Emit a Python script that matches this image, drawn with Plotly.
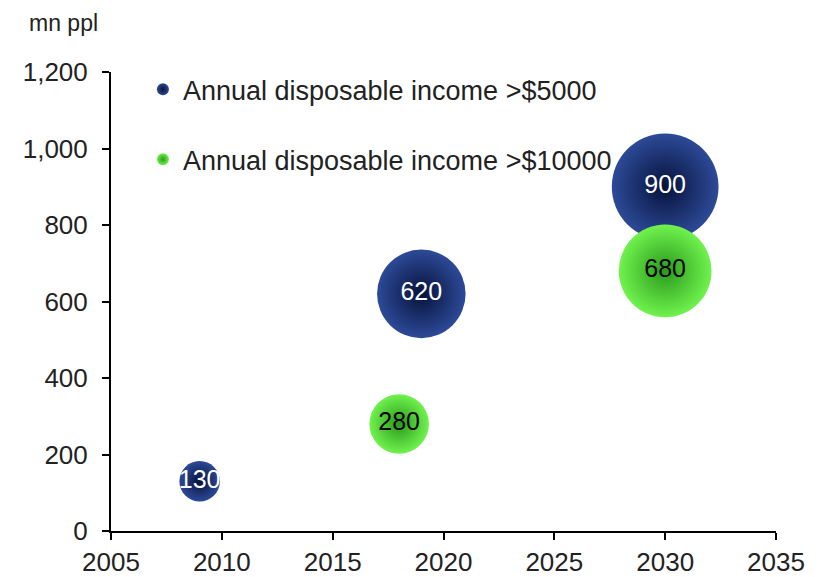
import plotly.graph_objects as go

# data
years_5k = [2009, 2019, 2030]
ppl_5k = [130, 620, 900]
years_10k = [2018, 2030]
ppl_10k = [280, 680]
names = ["Annual disposable income >$5000", "Annual disposable income >$10000"]

font = "Liberation Sans, Arial, sans-serif"
sizeref = 0.158  # area mode: diameter ~ 3.55*sqrt(value)

fig = go.Figure()
fig.add_trace(go.Scatter(
    x=years_5k, y=ppl_5k, name=names[0], legendgroup="a",
    mode="markers+text", text=[str(v) for v in ppl_5k],
    textposition="middle center",
    textfont=dict(color="white", size=25, family=font),
    marker=dict(size=ppl_5k, sizemode="area", sizeref=sizeref, opacity=1,
                color="#2d4a98", line=dict(width=0),
                gradient=dict(type="radial", color="#06123a")),
))
fig.add_trace(go.Scatter(
    x=years_10k, y=ppl_10k, name=names[1], legendgroup="b",
    mode="markers+text", text=[str(v) for v in ppl_10k],
    textposition="middle center",
    textfont=dict(color="black", size=25, family=font),
    marker=dict(size=ppl_10k, sizemode="area", sizeref=sizeref, opacity=1,
                color="#70f24e", line=dict(width=0),
                gradient=dict(type="radial", color="#2a9a1c")),
))

fig.update_layout(
    width=817, height=569,
    margin=dict(l=103, r=49, t=64, b=46),
    plot_bgcolor="white", paper_bgcolor="white",
    font=dict(family=font, size=26, color="#222222"),
    showlegend=True,
    legend=dict(x=0.048, y=1.015, xanchor="left", yanchor="top",
                bgcolor="rgba(0,0,0,0)", itemsizing="constant",
                tracegroupgap=32, font=dict(size=27)),
    xaxis=dict(range=[2005, 2035], dtick=5, showgrid=False, zeroline=False,
               showline=True, linecolor="black", linewidth=2, automargin=False,
               ticks="outside", ticklen=7, tickwidth=2, tickcolor="black"),
    yaxis=dict(range=[0, 1200], dtick=200, tickformat=",", showgrid=False,
               zeroline=False, showline=True, linecolor="black", linewidth=2,
               automargin=False, ticklabelstandoff=9,
               ticks="outside", ticklen=7, tickwidth=2, tickcolor="black"),
    annotations=[dict(text="mn ppl", x=0, y=1, xref="paper", yref="paper",
                      xanchor="left", yanchor="top", xshift=-84, yshift=64,
                      showarrow=False, font=dict(size=23))],
)

fig.write_html("out.html")
